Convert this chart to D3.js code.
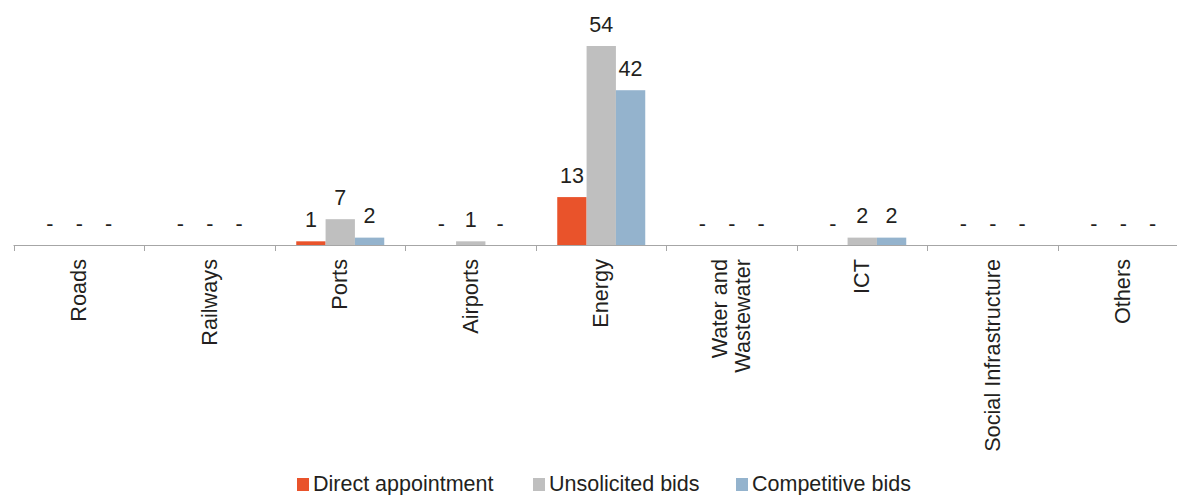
<!doctype html>
<html>
<head>
<script src="https://d3js.org/d3.v7.min.js"></script>
<style>
body { margin: 0; background: #fff; }
text { font-family: "Liberation Sans", Arial, sans-serif; fill: #231f20; }
</style>
</head>
<body>
<svg width="1177" height="495" id="chart"></svg>
<script>
var categories = ["Roads", "Railways", "Ports", "Airports", "Energy", "Water and Wastewater", "ICT", "Social Infrastructure", "Others"];
var seriesNames = ["Direct appointment", "Unsolicited bids", "Competitive bids"];
var directAppointment = [0, 0, 1, 0, 13, 0, 0, 0, 0];
var unsolicitedBids = [0, 0, 7, 1, 54, 0, 2, 0, 0];
var competitiveBids = [0, 0, 2, 0, 42, 0, 2, 0, 0];
var colors = ["#e9532b", "#bfbfbf", "#94b3cd"];

var values = [directAppointment, unsolicitedBids, competitiveBids];
var svg = d3.select("#chart");

var baseY = 245;
var x = d3.scaleBand().domain(categories).range([13.5, 13.5 + 9 * 130.5]);
var inner = d3.scaleBand().domain(seriesNames).range([0, 88]);
var y = d3.scaleLinear().domain([0, 54]).range([baseY, 46]);
var groupOffset = (x.bandwidth() - 88) / 2 + 0.5;

var data = [];
categories.forEach(function(c, i) {
  seriesNames.forEach(function(s, j) {
    data.push({cat: c, series: s, v: values[j][i], color: colors[j]});
  });
});

svg.selectAll("rect.bar").data(data).enter().append("rect")
  .attr("class", "bar")
  .attr("x", function(d) { return x(d.cat) + groupOffset + inner(d.series); })
  .attr("y", function(d) { return y(d.v); })
  .attr("width", inner.bandwidth())
  .attr("height", function(d) { return baseY - y(d.v); })
  .attr("fill", function(d) { return d.color; });

svg.selectAll("text.val").data(data).enter().append("text")
  .attr("class", "val")
  .attr("x", function(d) { return x(d.cat) + groupOffset + inner(d.series) + inner.bandwidth() / 2; })
  .attr("y", function(d) { return y(d.v) - 14.5; })
  .attr("text-anchor", "middle")
  .style("font-size", "21.5px")
  .text(function(d) { return d.v === 0 ? "-" : d.v; });

// axis line and ticks
svg.append("line").attr("x1", 13.5).attr("x2", 1177).attr("y1", baseY + 0.5).attr("y2", baseY + 0.5)
  .attr("stroke", "#a6a6a6").attr("stroke-width", 1);
var tickPos = categories.map(function(c) { return x(c); });
svg.selectAll("line.tick").data(tickPos).enter().append("line")
  .attr("x1", function(d) { return Math.round(d) + 0.5; })
  .attr("x2", function(d) { return Math.round(d) + 0.5; })
  .attr("y1", baseY).attr("y2", baseY + 6)
  .attr("stroke", "#a6a6a6");

// category labels (rotated)
var lab = svg.selectAll("g.lab").data(categories).enter().append("g")
  .attr("transform", function(c) { return "translate(" + (x(c) + x.bandwidth() / 2) + "," + 259 + ") rotate(-90)"; });
lab.each(function(c) {
  var g = d3.select(this);
  var lines = c === "Water and Wastewater" ? ["Water and", "Wastewater"] : [c];
  lines.forEach(function(l, k) {
    g.append("text")
      .attr("x", 0)
      .attr("y", (k - (lines.length - 1) / 2) * 23 + 7.5)
      .attr("text-anchor", "end")
      .style("font-size", "21.7px")
      .text(l);
  });
});

// legend
var legendX = [297, 533, 736];
var leg = svg.selectAll("g.leg").data(seriesNames).enter().append("g")
  .attr("transform", function(d, i) { return "translate(" + legendX[i] + ",478)"; });
leg.append("rect").attr("width", 12).attr("height", 13).attr("y", 0)
  .attr("fill", function(d, i) { return colors[i]; });
leg.append("text").attr("x", 16).attr("y", 12.5).style("font-size", "21.5px").text(function(d) { return d; });
</script>
</body>
</html>
